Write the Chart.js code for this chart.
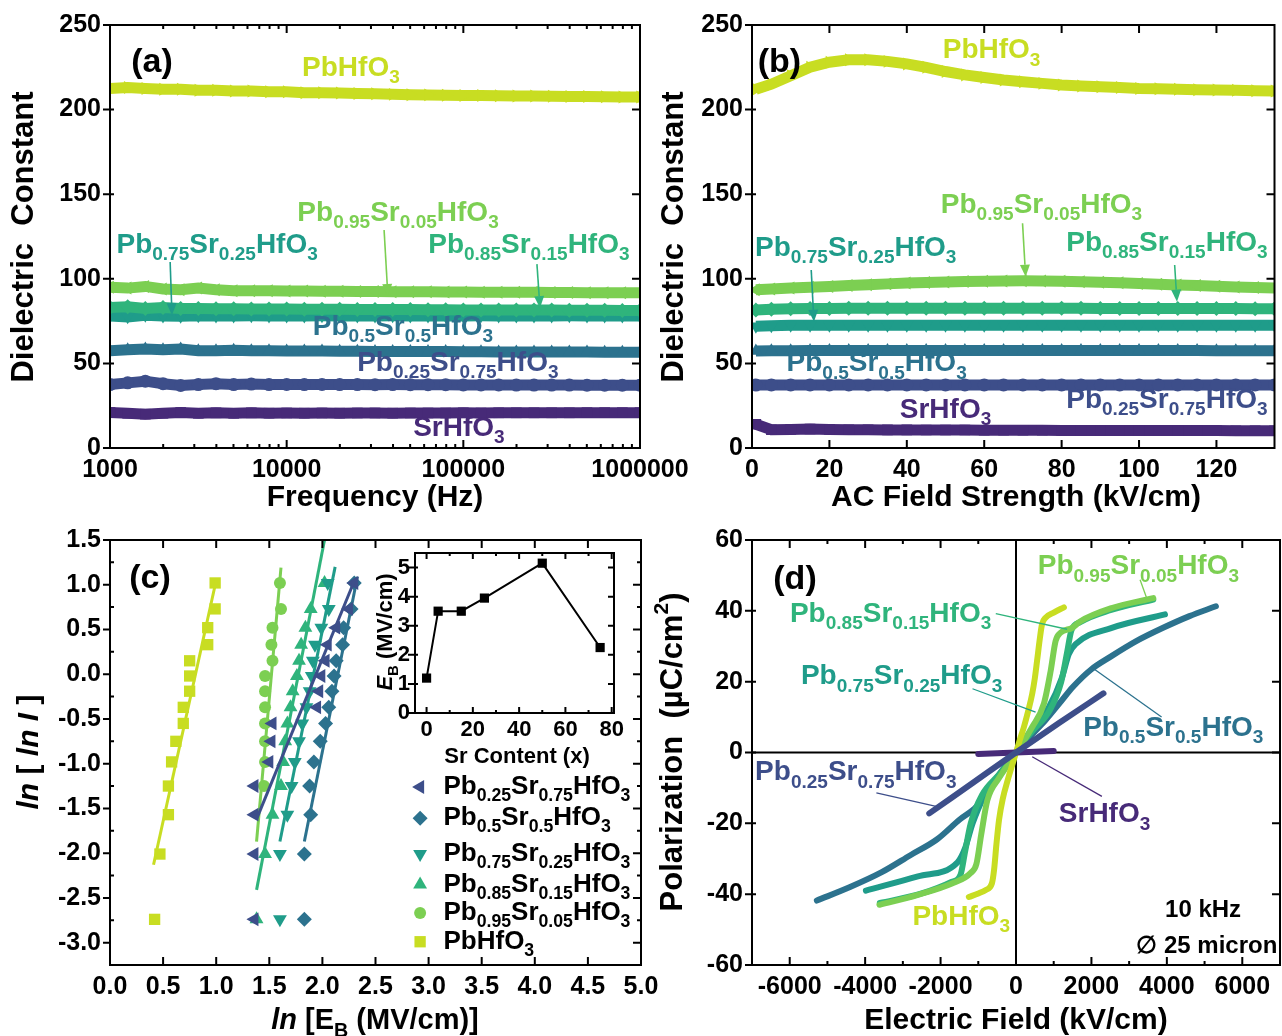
<!DOCTYPE html>
<html><head><meta charset="utf-8">
<script src="https://cdn.jsdelivr.net/npm/chart.js@4.4.0/dist/chart.umd.min.js"></script>
<style>
html,body{margin:0;padding:0;background:#fff;}
#wrap{position:relative;width:1282px;height:1036px;overflow:hidden;background:#fff;}
canvas{position:absolute;left:0;top:0;}
</style></head><body><div id="wrap">
<canvas id="ca" width="1282" height="1036"></canvas>
<canvas id="cb" width="1282" height="1036"></canvas>
<canvas id="cc" width="1282" height="1036"></canvas>
<canvas id="cd" width="1282" height="1036"></canvas>
<canvas id="ci" width="1282" height="1036"></canvas>
</div>
<script>
// ---------------- DATA ----------------
// (a) dielectric constant vs frequency
const freq = [1000,1259,1585,1995,2512,3162,3981,5012,6310,7943,10000,12589,15849,19953,25119,31623,39811,50119,63096,79433,100000,125893,158489,199526,251189,316228,398107,501187,630957,794328,1000000];
const epsF_Pb  = [212.5,213,212.5,212,212,211.5,211.5,211,211,210.5,210.5,210,210,209.8,209.5,209.3,209,208.8,208.7,208.5,208.4,208.3,208.2,208,208,207.9,207.8,207.7,207.6,207.5,207.5];
const epsF_p95 = [95,94.5,95.5,94,93.5,94.5,93.5,93,93,93,92.8,92.8,92.6,92.6,92.5,92.5,92.4,92.3,92.3,92.2,92.2,92.1,92,92,92,91.9,91.9,91.8,91.8,91.7,91.7];
const epsF_p85 = [83,83.5,82.5,83,82.5,82.5,82.3,82.3,82.2,82.2,82.1,82,82,82,81.9,81.9,81.8,81.8,81.7,81.7,81.6,81.6,81.6,81.5,81.5,81.5,81.4,81.4,81.4,81.3,81.3];
const epsF_p75 = [78,77.5,78.5,78,77.8,78.2,78,78,78.1,78,78,78,78.1,78,78,78,78.1,78,78,78,78,78.1,78,78,78,78,78.1,78,78,78,78];
const epsF_p50 = [57.5,58,58.5,58,58.5,57.5,57.5,57.8,57.5,57.5,57.4,57.3,57.3,57.2,57.2,57.1,57.1,57,57,57,56.9,56.9,56.8,56.8,56.8,56.7,56.7,56.7,56.6,56.6,56.6];
const epsF_p25 = [37.5,38.5,39.5,38,37,37.5,38,37.5,37.8,37.5,37.6,37.5,37.6,37.5,37.5,37.4,37.5,37.4,37.4,37.4,37.3,37.3,37.3,37.2,37.2,37.2,37.2,37.1,37.1,37.1,37.1];
const epsF_Sr  = [21,20.5,20,20.5,21,20.5,20.8,20.5,20.8,20.6,20.7,20.6,20.7,20.6,20.7,20.7,20.6,20.7,20.7,20.7,20.8,20.7,20.8,20.8,20.8,20.8,20.8,20.9,20.9,20.9,20.9];

// (b) dielectric constant vs AC field
const field = [1,5,10,15,20,25,30,35,40,45,50,55,60,65,70,75,80,85,90,95,100,105,110,115,120,125,130,135];
const epsE_Pb  = [212,215,220,225,228,229.5,229.5,228.5,227,225,222.5,220.5,219,217.5,216.5,215.5,214.5,214,213.5,213,212.5,212.3,212,211.8,211.6,211.4,211.2,211];
const epsE_p95 = [93.5,94,94.5,95,95.5,96,96.5,97,97.5,97.8,98.1,98.4,98.6,98.7,98.8,98.7,98.5,98.2,97.9,97.6,97.2,96.8,96.4,96,95.6,95.2,94.8,94.5];
const epsE_p85 = [81.5,82,82.3,82.5,82.5,82.6,82.6,82.6,82.6,82.6,82.6,82.6,82.6,82.6,82.6,82.6,82.6,82.6,82.5,82.5,82.5,82.5,82.5,82.4,82.4,82.4,82.3,82.3];
const epsE_p75 = [72,72.3,72.5,72.5,72.6,72.6,72.6,72.6,72.6,72.6,72.6,72.6,72.6,72.6,72.6,72.6,72.6,72.6,72.6,72.6,72.6,72.6,72.6,72.6,72.5,72.5,72.5,72.5];
const epsE_p50 = [57.3,57.5,57.5,57.6,57.6,57.6,57.6,57.6,57.6,57.6,57.6,57.6,57.6,57.6,57.6,57.6,57.6,57.6,57.6,57.6,57.6,57.6,57.6,57.6,57.5,57.5,57.5,57.5];
const epsE_p25 = [37.2,37.3,37.3,37.3,37.3,37.3,37.3,37.3,37.3,37.3,37.3,37.3,37.3,37.3,37.3,37.3,37.3,37.3,37.3,37.3,37.3,37.3,37.3,37.3,37.3,37.3,37.3,37.3];
const epsE_Sr  = [14,10.8,11,11.2,11,10.8,10.8,10.7,10.7,10.6,10.6,10.6,10.5,10.5,10.5,10.5,10.4,10.4,10.4,10.4,10.3,10.3,10.3,10.3,10.3,10.2,10.2,10.2];

// (c) Weibull plot
const lnI_15  = [-2.74,-2.01,-1.57,-1.25,-0.98,-0.75,-0.55,-0.37,-0.19,-0.02,0.15,0.33,0.52,0.73,1.02];
const lnI_p95 = [-1.25,-0.98,-0.75,-0.55,-0.37,-0.19,-0.02,0.15,0.33,0.52,0.73,1.02];
const lnE_p25 = [1.36,1.36,1.36,1.36,1.50,1.52,1.53,1.95,1.97,1.99,2.03,2.05,2.13,2.25,2.30];
const lnE_p50 = [1.83,1.83,1.89,1.88,1.92,1.98,2.03,2.06,2.09,2.11,2.13,2.19,2.20,2.27,2.30];
const lnE_p75 = [1.60,1.60,1.67,1.71,1.74,1.78,1.81,1.85,1.88,1.90,1.91,1.93,1.99,2.06,2.05];
const lnE_p85 = [1.38,1.46,1.53,1.61,1.63,1.65,1.67,1.70,1.72,1.76,1.78,1.80,1.84,1.89,2.02];
const lnE_p95 = [1.45,1.46,1.46,1.46,1.46,1.46,1.46,1.53,1.52,1.53,1.61,1.60];
const lnE_Pb  = [0.42,0.47,0.55,0.55,0.58,0.62,0.69,0.69,0.75,0.75,0.75,0.92,0.92,0.99,0.99];
const fitX_Pb = [0.41,1.0],  fitY_Pb = [-2.13,1.05];
const fitX_p95 = [1.38,1.61], fitY_p95 = [-1.87,1.19];
const fitX_p85 = [1.38,2.02], fitY_p85 = [-2.41,1.5];
const fitX_p75 = [1.60,2.12], fitY_p75 = [-1.87,1.2];
const fitX_p50 = [1.83,2.33], fitY_p50 = [-1.87,1.09];
const fitX_p25 = [1.38,2.31], fitY_p25 = [-1.62,1.07];
// inset
const srContent = [0,5,15,25,50,75];
const EB = [1.2,3.5,3.5,3.95,5.15,2.25];

// (d) P-E loops
const E_Pb  = [-1250,-1000,-800,-640,-580,-520,-450,-350,-220,-100,0,100,210,330,430,500,560,630,690,780,1000,1270];
const P_Pb  = [-40.8,-39.8,-38.8,-37,-33,-26,-19,-13,-7.8,-3.5,0,3.5,7.2,12,16.6,21,26,32,36.2,38,39.5,41];
const E_p95 = [-3620,-2600,-1700,-1200,-1050,-920,-760,-450,-200,0,200,430,740,920,1050,1180,1490,1700,2540,3640];
const P_p95 = [-43,-40.2,-37,-34,-31.5,-23,-13.5,-7.2,-3.2,0,3.2,7.2,13.8,23.1,31.5,33.8,35.2,37,40.8,43.6];
const E_p85 = [-3610,-2500,-1700,-1470,-1350,-1200,-900,-430,-200,0,200,430,900,1200,1350,1470,1700,2500,3640];
const P_p85 = [-42.5,-39.8,-36.5,-34.5,-28,-20,-12,-6,-3,0,3,6,12,20,28,34.5,36.8,40.2,43.2];
const E_p75 = [-3980,-2600,-1550,-1350,-1150,-850,-420,0,420,870,1220,1400,1580,2540,3950];
const P_p75 = [-39,-35,-31,-27,-20,-12.5,-6,0,6.3,12.8,21.2,27.8,30.6,35.2,39];
const E_p50 = [-5280,-4400,-3560,-2800,-2090,-1500,-1040,-500,0,400,780,1200,1500,2000,2500,3200,3900,4600,5300];
const P_p50 = [-41.8,-38,-33.8,-29,-24.5,-19,-15.2,-7,0,4.8,9.1,14.5,18.4,23.5,27,31.5,35.2,38.5,41.3];
const E_p25 = [-2300,-1150,0,1150,2320];
const P_p25 = [-17.2,-8.6,0,8.4,16.7];
const E_Sr  = [-1000,0,1000];
const P_Sr  = [-0.4,0,0.4];

// tick label values
const ticksA_x = [1000,10000,100000,1000000];
const ticksAB_y = [0,50,100,150,200,250];
const ticksB_x = [0,20,40,60,80,100,120];
const ticksC_x = [0,0.5,1,1.5,2,2.5,3,3.5,4,4.5,5];
const ticksC_y = [-3,-2.5,-2,-1.5,-1,-0.5,0,0.5,1,1.5];
const ticksI_x = [0,20,40,60,80];
const ticksI_y = [0,1,2,3,4,5];
const ticksD_x = [-6000,-4000,-2000,0,2000,4000,6000];
const ticksD_y = [-60,-40,-20,0,20,40,60];

// ---------------- STYLE ----------------
const FONT = '"Liberation Sans", Arial, sans-serif';
const COL = {Pb:'#c8dd22', p95:'#7ccf52', p85:'#2fb47c', p75:'#1f9c8a', p50:'#2c728e', p25:'#3d4e8a', Sr:'#472a78'};
Chart.defaults.font.family = FONT;
const NAME = {Pb:'PbHfO_{3}', p95:'Pb_{0.95}Sr_{0.05}HfO_{3}', p85:'Pb_{0.85}Sr_{0.15}HfO_{3}', p75:'Pb_{0.75}Sr_{0.25}HfO_{3}', p50:'Pb_{0.5}Sr_{0.5}HfO_{3}', p25:'Pb_{0.25}Sr_{0.75}HfO_{3}', Sr:'SrHfO_{3}'};

// ---------------- HELPERS ----------------
function parseRich(s){
  const out=[]; let i=0, buf='';
  while(i<s.length){
    const c=s[i];
    if((c==='_'||c==='^'||c==='~') && s[i+1]==='{'){
      if(buf){out.push({t:buf,k:'n'});buf='';}
      const j=s.indexOf('}',i);
      out.push({t:s.slice(i+2,j),k:c==='_'?'sub':(c==='^'?'sup':'it')});
      i=j+1;
    } else {buf+=c;i++;}
  }
  if(buf) out.push({t:buf,k:'n'});
  return out;
}
function drawRich(ctx,s,x,y,o){
  const size=o.size||28, parts=parseRich(s);
  const fontFor=p=>{
    const sz=(p.k==='sub'||p.k==='sup')?size*0.68:size;
    const it=(p.k==='it'||o.italic)?'italic ':'';
    return it+'bold '+sz+'px '+FONT;
  };
  let total=0;
  parts.forEach(p=>{ctx.font=fontFor(p);p.w=ctx.measureText(p.t).width;total+=p.w;});
  ctx.save();
  ctx.translate(x,y); if(o.rotate) ctx.rotate(o.rotate);
  ctx.fillStyle=o.color||'#000'; ctx.textBaseline='middle'; ctx.textAlign='left';
  let cx = o.align==='left'?0:(o.align==='right'?-total:-total/2);
  parts.forEach(p=>{
    ctx.font=fontFor(p);
    const dy = p.k==='sub'?size*0.36:(p.k==='sup'?-size*0.34:0);
    ctx.fillText(p.t,cx,dy); cx+=p.w;
  });
  ctx.restore();
}
function arrow(ctx,x1,y1,x2,y2,col){
  ctx.save();ctx.strokeStyle=col;ctx.fillStyle=col;ctx.lineWidth=1.6;
  const a=Math.atan2(y2-y1,x2-x1),hl=12,hw=5;
  const bx=x2-hl*Math.cos(a),by=y2-hl*Math.sin(a);
  ctx.beginPath();ctx.moveTo(x1,y1);ctx.lineTo(bx,by);ctx.stroke();
  ctx.beginPath();ctx.moveTo(x2,y2);ctx.lineTo(bx+hw*Math.sin(a),by-hw*Math.cos(a));ctx.lineTo(bx-hw*Math.sin(a),by+hw*Math.cos(a));ctx.closePath();ctx.fill();
  ctx.restore();
}
function linTicks(min,max,step){const r=[];for(let k=Math.ceil(min/step-1e-9);k*step<=max+1e-9;k++)r.push(+(k*step).toFixed(6));return r;}
function logMinor(min,max){const r=[];for(let e=Math.floor(Math.log10(min));e<=Math.ceil(Math.log10(max));e++){for(let m=2;m<10;m++){const v=m*Math.pow(10,e);if(v>min&&v<max)r.push(v);}}return r;}
function drawFrame(chart,f){
  const ctx=chart.ctx,a=chart.chartArea,X=chart.scales.x,Y=chart.scales.y;
  const L=f.L||8,l=f.l||4;
  ctx.save();ctx.strokeStyle='#000';ctx.lineWidth=2;
  ctx.beginPath();
  f.xMaj.forEach(v=>{const p=X.getPixelForValue(v);ctx.moveTo(p,a.bottom);ctx.lineTo(p,a.bottom-L);ctx.moveTo(p,a.top);ctx.lineTo(p,a.top+L);});
  f.xMin.forEach(v=>{const p=X.getPixelForValue(v);ctx.moveTo(p,a.bottom);ctx.lineTo(p,a.bottom-l);ctx.moveTo(p,a.top);ctx.lineTo(p,a.top+l);});
  f.yMaj.forEach(v=>{const p=Y.getPixelForValue(v);ctx.moveTo(a.left-7,p);ctx.lineTo(a.left,p);ctx.moveTo(a.right,p);ctx.lineTo(a.right-L,p);});
  f.yMin.forEach(v=>{const p=Y.getPixelForValue(v);ctx.moveTo(a.left,p);ctx.lineTo(a.left+l,p);ctx.moveTo(a.right,p);ctx.lineTo(a.right-l,p);});
  ctx.stroke();
  ctx.strokeRect(a.left,a.top,a.right-a.left,a.bottom-a.top);
  ctx.restore();
}
const DECO = {};
const decoPlugin = {
  id:'deco',
  beforeDatasetsDraw(chart){
    const o=DECO[chart.canvas.id]||{},ctx=chart.ctx,a=chart.chartArea;
    if(o.white){ctx.save();ctx.fillStyle='#fff';ctx.fillRect(a.left,a.top,a.right-a.left,a.bottom-a.top);ctx.restore();}
    if(o.zero){
      const X=chart.scales.x,Y=chart.scales.y,px=X.getPixelForValue(0),py=Y.getPixelForValue(0);
      ctx.save();ctx.strokeStyle='#000';ctx.lineWidth=2;ctx.beginPath();
      ctx.moveTo(px,a.top);ctx.lineTo(px,a.bottom);ctx.moveTo(a.left,py);ctx.lineTo(a.right,py);ctx.stroke();ctx.restore();
    }
  },
  afterDraw(chart){
    const o=DECO[chart.canvas.id]||{},ctx=chart.ctx,X=chart.scales.x,Y=chart.scales.y;
    const px=v=>X.getPixelForValue(v),py=v=>Y.getPixelForValue(v);
    if(o.frame) drawFrame(chart,o.frame);
    (o.leaders||[]).forEach(l=>{ctx.save();ctx.strokeStyle=l.color;ctx.lineWidth=1.3;ctx.beginPath();ctx.moveTo(px(l.x1),py(l.y1));ctx.lineTo(px(l.x2),py(l.y2));ctx.stroke();ctx.restore();});
    (o.arrows||[]).forEach(l=>arrow(ctx,px(l.x1),py(l.y1),px(l.x2),py(l.y2),l.color));
    (o.labels||[]).forEach(t=>drawRich(ctx,t.text,px(t.x),py(t.y),t));
    (o.legend||[]).forEach(e=>{
      ctx.save();ctx.fillStyle=e.color;ctx.strokeStyle=e.color;
      Chart.helpers.drawPoint(ctx,{pointStyle:e.style,rotation:e.rot||0,radius:e.r,borderWidth:0},px(e.mx),py(e.y));
      ctx.restore();
      drawRich(ctx,e.text,px(e.tx),py(e.y),{size:26,color:'#000',align:'left'});
    });
    (o.titles||[]).forEach(t=>drawRich(ctx,t.text,t.px,t.py,t));
  }
};
function setTicks(vals){return function(s){s.ticks=vals.map(v=>({value:v}));};}
function makeChart(id,area,xs,ys,datasets,opt){
  opt=opt||{};
  const YW=opt.YW||70, XH=opt.XH||45, tsize=opt.tsize||25;
  const tickFont={family:FONT,size:tsize,weight:'bold'};
  const base={grid:{display:false,drawTicks:false},border:{display:false}};
  const x=Object.assign({},base,xs);x.ticks=Object.assign({font:tickFont,color:'#000',autoSkip:false,maxRotation:0,padding:opt.xpad||7,callback:v=>String(v)},xs.ticks||{});x.afterFit=function(s){s.height=XH;};
  const y=Object.assign({},base,ys);y.ticks=Object.assign({font:tickFont,color:'#000',autoSkip:false,padding:opt.ypad||9,callback:v=>String(v)},ys.ticks||{});y.afterFit=function(s){s.width=YW;};
  return new Chart(document.getElementById(id),{
    type:'scatter',
    data:{datasets},
    options:{
      responsive:false,animation:false,devicePixelRatio:1,events:[],
      layout:{padding:{left:area.l-YW,top:area.t,right:1282-area.r,bottom:1036-area.b-XH}},
      plugins:{legend:{display:false},tooltip:{enabled:false}},
      scales:{x,y}
    },
    plugins:[decoPlugin]
  });
}
function band(xs,ys,color,style,rot,r){
  return {data:xs.map((v,i)=>({x:v,y:ys[i]})),showLine:true,borderColor:color,backgroundColor:color,
    borderWidth:11,pointStyle:style,pointRotation:rot,pointRadius:r,pointBorderWidth:0,pointBackgroundColor:color};
}
function marks(xs,ys,color,style,rot,r){
  return {data:xs.map((v,i)=>({x:v,y:ys[i]})),showLine:false,backgroundColor:color,borderColor:color,
    pointStyle:style,pointRotation:rot,pointRadius:r,pointBorderWidth:0,pointBackgroundColor:color};
}
function fit(xs,ys,color){
  return {data:xs.map((v,i)=>({x:v,y:ys[i]})),showLine:true,borderColor:color,borderWidth:3,pointRadius:0};
}
function loop(xs,ys,color){
  return {data:xs.map((v,i)=>({x:v,y:ys[i]})),showLine:true,borderColor:color,borderWidth:6,pointRadius:0,cubicInterpolationMode:'monotone',borderCapStyle:'round'};
}
const TT=30;
const fmt1 = v=>Number(v).toFixed(1);

// ---------------- (a) ----------------
DECO.ca = {
  frame:{xMaj:[1e3,1e4,1e5,1e6],xMin:logMinor(1e3,1e6),yMaj:linTicks(0,250,50),yMin:linTicks(25,225,50)},
  labels:[
    {text:'(a)',x:1730,y:228,size:34,color:'#000'},
    {text:NAME.Pb,x:23100,y:224.6,color:COL.Pb},
    {text:NAME.p95,x:42700,y:138.9,color:COL.p95},
    {text:NAME.p75,x:4040,y:120,color:COL.p75},
    {text:NAME.p85,x:235000,y:120,color:COL.p85},
    {text:NAME.p50,x:45500,y:71.5,color:COL.p50},
    {text:NAME.p25,x:93100,y:50.2,color:COL.p25},
    {text:NAME.Sr,x:94400,y:11.8,color:COL.Sr}
  ],
  arrows:[
    {x1:35600,y1:128.8,x2:37400,y2:89.8,color:COL.p95},
    {x1:2190,y1:109.9,x2:2243,y2:78.5,color:COL.p75},
    {x1:261000,y1:108.7,x2:271600,y2:82.7,color:COL.p85}
  ],
  titles:[
    {text:'Dielectric  Constant',px:24,py:237,size:31,rotate:-Math.PI/2},
    {text:'Frequency (Hz)',px:375,py:498,size:TT}
  ]
};
makeChart('ca',{l:110,t:25,r:640,b:448},
  {type:'logarithmic',min:1000,max:1000000,afterBuildTicks:setTicks(ticksA_x)},
  {min:0,max:250,afterBuildTicks:setTicks(ticksAB_y)},
  [
    band(freq,epsF_Pb,COL.Pb,'triangle',90,7.5),
    band(freq,epsF_p95,COL.p95,'triangle',-90,7.5),
    band(freq,epsF_p85,COL.p85,'rectRot',0,7.5),
    band(freq,epsF_p75,COL.p75,'triangle',180,7.5),
    band(freq,epsF_p50,COL.p50,'triangle',0,7.5),
    band(freq,epsF_p25,COL.p25,'circle',0,6.5),
    band(freq,epsF_Sr,COL.Sr,'rect',0,7.5)
  ]);

// ---------------- (b) ----------------
DECO.cb = {
  frame:{xMaj:linTicks(0,135,20),xMin:linTicks(10,135,20),yMaj:linTicks(0,250,50),yMin:linTicks(25,225,50)},
  labels:[
    {text:'(b)',x:7.1,y:228,size:34,color:'#000'},
    {text:NAME.Pb,x:61.9,y:235,color:COL.Pb},
    {text:NAME.p95,x:74.8,y:143.6,color:COL.p95},
    {text:NAME.p75,x:26.8,y:118.2,color:COL.p75},
    {text:NAME.p85,x:107.2,y:121.2,color:COL.p85},
    {text:NAME.p50,x:32.2,y:50,color:COL.p50},
    {text:NAME.Sr,x:50,y:22.4,color:COL.Sr},
    {text:NAME.p25,x:107.2,y:28.4,color:COL.p25}
  ],
  arrows:[
    {x1:69.9,y1:132.8,x2:70.7,y2:101.2,color:COL.p95},
    {x1:15.3,y1:105.2,x2:16.0,y2:74.6,color:COL.p75},
    {x1:109.2,y1:108.2,x2:109.8,y2:86.5,color:COL.p85}
  ],
  titles:[
    {text:'Dielectric  Constant',px:674,py:237,size:31,rotate:-Math.PI/2},
    {text:'AC Field Strength (kV/cm)',px:1016,py:498,size:TT}
  ]
};
makeChart('cb',{l:752,t:25,r:1280,b:448},
  {min:0,max:135,afterBuildTicks:setTicks(ticksB_x)},
  {min:0,max:250,afterBuildTicks:setTicks(ticksAB_y)},
  [
    band(field,epsE_Pb,COL.Pb,'triangle',90,7.5),
    band(field,epsE_p95,COL.p95,'triangle',-90,7.5),
    band(field,epsE_p85,COL.p85,'rectRot',0,7.5),
    band(field,epsE_p75,COL.p75,'triangle',180,7.5),
    band(field,epsE_p50,COL.p50,'triangle',0,7.5),
    band(field,epsE_p25,COL.p25,'circle',0,6.5),
    band(field,epsE_Sr,COL.Sr,'rect',0,7.5)
  ]);

// ---------------- (c) ----------------
DECO.cc = {
  frame:{xMaj:linTicks(0,5,0.5),xMin:linTicks(0.25,5,0.5),yMaj:linTicks(-3.25,1.5,0.5),yMin:linTicks(-3.25,1.5,0.5).map(v=>v+0.25).filter(v=>v<1.5)},
  labels:[{text:'(c)',x:0.376,y:1.07,size:34,color:'#000'}],
  legend:[
    {text:NAME.p25,color:COL.p25,style:'triangle',rot:-90,r:8,mx:2.92,tx:3.14,y:-1.26},
    {text:NAME.p50,color:COL.p50,style:'rectRot',rot:0,r:7.5,mx:2.92,tx:3.14,y:-1.61},
    {text:NAME.p75,color:COL.p75,style:'triangle',rot:180,r:8,mx:2.92,tx:3.14,y:-2.01},
    {text:NAME.p85,color:COL.p85,style:'triangle',rot:0,r:8,mx:2.92,tx:3.14,y:-2.35},
    {text:NAME.p95,color:COL.p95,style:'circle',rot:0,r:6,mx:2.92,tx:3.14,y:-2.67},
    {text:NAME.Pb,color:COL.Pb,style:'rect',rot:0,r:8,mx:2.92,tx:3.14,y:-2.99}
  ],
  titles:[
    {text:'~{ln} [ ~{ln} ~{I} ]',px:30,py:752,size:30,rotate:-Math.PI/2},
    {text:'~{ln} [E_{B} (MV/cm)]',px:375,py:1021,size:29}
  ]
};
makeChart('cc',{l:110,t:540,r:641,b:965},
  {min:0,max:5,afterBuildTicks:setTicks(ticksC_x),ticks:{callback:fmt1}},
  {min:-3.25,max:1.5,afterBuildTicks:setTicks(ticksC_y),ticks:{callback:fmt1}},
  [
    fit(fitX_p25,fitY_p25,COL.p25),
    marks(lnE_p25,lnI_15,COL.p25,'triangle',-90,8),
    fit(fitX_p50,fitY_p50,COL.p50),
    marks(lnE_p50,lnI_15,COL.p50,'rectRot',0,7.5),
    fit(fitX_p75,fitY_p75,COL.p75),
    marks(lnE_p75,lnI_15,COL.p75,'triangle',180,8),
    fit(fitX_p85,fitY_p85,COL.p85),
    marks(lnE_p85,lnI_15,COL.p85,'triangle',0,8),
    fit(fitX_p95,fitY_p95,COL.p95),
    marks(lnE_p95,lnI_p95,COL.p95,'circle',0,6),
    fit(fitX_Pb,fitY_Pb,COL.Pb),
    marks(lnE_Pb,lnI_15,COL.Pb,'rect',0,8)
  ]);

// inset
DECO.ci = {
  white:true,
  frame:{L:6,l:3,xMaj:ticksI_x,xMin:linTicks(-5,81,10).filter(v=>v%20!==0),yMaj:ticksI_y,yMin:linTicks(0.5,5.5,1)},
  titles:[
    {text:'~{E}_{B} (MV/cm)',px:386,py:632,size:22,rotate:-Math.PI/2},
    {text:'Sr Content (x)',px:517,py:757,size:22}
  ]
};
makeChart('ci',{l:415,t:553,r:614,b:713},
  {min:-5,max:81,afterBuildTicks:setTicks(ticksI_x)},
  {min:0,max:5.5,afterBuildTicks:setTicks(ticksI_y)},
  [{data:srContent.map((v,i)=>({x:v,y:EB[i]})),showLine:true,borderColor:'#000',borderWidth:2,pointStyle:'rect',pointRadius:6.5,pointBorderWidth:0,pointBackgroundColor:'#000',backgroundColor:'#000'}],
  {YW:40,XH:35,tsize:22,ypad:5,xpad:4});

// ---------------- (d) ----------------
DECO.cd = {
  zero:true,
  frame:{xMaj:ticksD_x,xMin:linTicks(-7000,7000,1000).filter(v=>v%2000!==0),yMaj:ticksD_y,yMin:linTicks(-50,50,20)},
  labels:[
    {text:'(d)',x:-5860,y:48.9,size:34,color:'#000'},
    {text:NAME.p95,x:3245,y:52.5,color:COL.p95},
    {text:NAME.p85,x:-3325,y:39.1,color:COL.p85},
    {text:NAME.p75,x:-3034,y:21.4,color:COL.p75},
    {text:NAME.p50,x:4169,y:6.9,color:COL.p50},
    {text:NAME.p25,x:-4248,y:-5.7,color:COL.p25},
    {text:NAME.Sr,x:2348,y:-17.5,color:COL.Sr},
    {text:NAME.Pb,x:-1451,y:-46.4,color:COL.Pb},
    {text:'10 kHz',x:4960,y:-44.7,size:24,color:'#000'},
    {text:'\u2205 25 micron',x:6930,y:-54.8,size:24,color:'#000',align:'right'}
  ],
  leaders:[
    {x1:3290,y1:48.8,x2:3464,y2:43.6,color:COL.p95},
    {x1:-536,y1:39.2,x2:1354,y2:34.8,color:COL.p85},
    {x1:-1153,y1:18,x2:520,y2:11.4,color:COL.p75},
    {x1:3860,y1:10,x2:2013,y2:24,color:COL.p50},
    {x1:-3702,y1:-11.4,x2:-2119,y2:-15.2,color:COL.p25},
    {x1:2277,y1:-12.4,x2:430,y2:-1.2,color:COL.Sr}
  ],
  titles:[
    {text:'Polarization  (\u00b5C/cm^{2})',px:673,py:752,size:31,rotate:-Math.PI/2},
    {text:'Electric Field (kV/cm)',px:1016,py:1021,size:TT}
  ]
};
makeChart('cd',{l:752,t:540,r:1280,b:965},
  {min:-7000,max:7000,afterBuildTicks:setTicks(ticksD_x)},
  {min:-60,max:60,afterBuildTicks:setTicks(ticksD_y)},
  [
    loop(E_p25,P_p25,COL.p25),
    loop(E_Sr,P_Sr,COL.Sr),
    loop(E_Pb,P_Pb,COL.Pb),
    loop(E_p95,P_p95,COL.p95),
    loop(E_p85,P_p85,COL.p85),
    loop(E_p75,P_p75,COL.p75),
    loop(E_p50,P_p50,COL.p50)
  ]);
</script>
</body></html>
